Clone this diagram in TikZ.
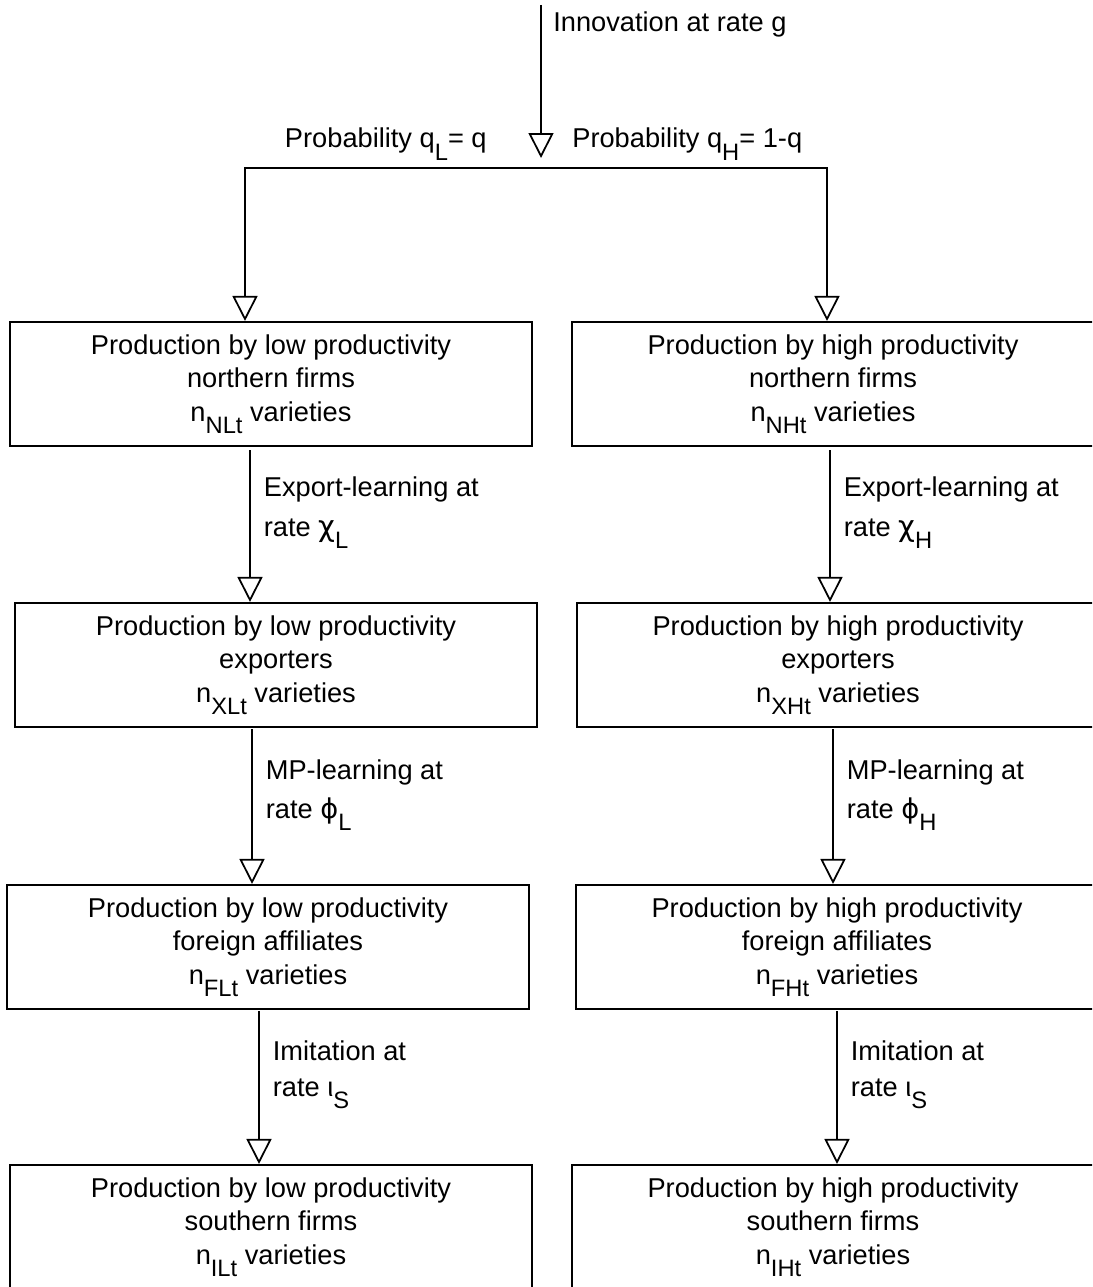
\documentclass[tikz,border=0pt]{standalone}
\usepackage{fontspec}
\setmainfont{Liberation Sans}
\newfontfamily\grk{DejaVu Sans}
\usetikzlibrary{arrows.meta, positioning, calc}
\newcommand{\lowsub}[1]{\raisebox{-0.45em}{\fontsize{13.5}{13.5}\selectfont #1}}

\begin{document}
\begin{tikzpicture}[x=0.02cm, y=-0.02cm,
  font=\fontsize{15.5}{19}\selectfont,
  firmbox/.style={draw, rectangle, line width=1.2pt, minimum width=10.44cm, minimum height=2.48cm, align=center, inner sep=2pt},
  flow/.style={line width=1pt, -{Triangle[open, width=0.5cm, length=0.5cm, line width=1pt]}},
  ratelbl/.style={anchor=north west, align=left, inner sep=0pt, xshift=0.26cm, font=\fontsize{15.5}{22.5}\selectfont},
  toplbl/.style={inner sep=0pt}]
\path[use as bounding box, clip] (0,0) rectangle (1092,1287);

% innovation and the split
\coordinate (src) at (541,5);
\coordinate (branch) at (541,168);
\node[toplbl, anchor=base west] (innov) at (553,32) {Innovation at rate g};
\node[toplbl, anchor=base east] (probl) at (487,148) {Probability q\lowsub{L}= q};
\node[toplbl, anchor=base west] (probh) at (572,148) {Probability q\lowsub{H}= 1-q};

% low productivity column
\node[firmbox] (nl) at (271,384) {Production by low productivity\\northern firms\\n\lowsub{NLt} varieties};
\node[firmbox] (xl) at (276,665) {Production by low productivity\\exporters\\n\lowsub{XLt} varieties};
\node[firmbox] (fl) at (268,947) {Production by low productivity\\foreign affiliates\\n\lowsub{FLt} varieties};
\node[firmbox] (il) at (271,1227) {Production by low productivity\\southern firms\\n\lowsub{ILt} varieties};

% high productivity column
\node[firmbox] (nh) at (833,384) {Production by high productivity\\northern firms\\n\lowsub{NHt} varieties};
\node[firmbox] (xh) at (838,665) {Production by high productivity\\exporters\\n\lowsub{XHt} varieties};
\node[firmbox] (fh) at (837,947) {Production by high productivity\\foreign affiliates\\n\lowsub{FHt} varieties};
\node[firmbox] (ih) at (833,1227) {Production by high productivity\\southern firms\\n\lowsub{IHt} varieties};

\draw[flow, shorten >=0.2cm] (src) -- (branch);
\coordinate (lsplit) at ($(nl.north)+(-26,0)$);
\coordinate (rsplit) at ($(nh.north)+(-6,0)$);
\draw[flow] (branch) -| (lsplit);
\draw[flow] (branch) -| (rsplit);

% learning and imitation steps
\coordinate (lexp) at ($(nl.south)+(-21,3)$);
\coordinate (hexp) at ($(nh.south)+(-3,3)$);
\coordinate (lmp) at ($(xl.south)+(-24,1)$);
\coordinate (hmp) at ($(xh.south)+(-5,1)$);
\coordinate (limi) at ($(fl.south)+(-9,1)$);
\coordinate (himi) at ($(fh.south)+(0,1)$);

\draw[flow] (lexp) -- (lexp |- xl.north) node[ratelbl, pos=0.17] {Export-learning at\\rate {\grk\fontsize{16.5}{16.5}\selectfont χ}\lowsub{L}};
\draw[flow] (hexp) -- (hexp |- xh.north) node[ratelbl, pos=0.17] {Export-learning at\\rate {\grk\fontsize{16.5}{16.5}\selectfont χ}\lowsub{H}};
\draw[flow] (lmp) -- (lmp |- fl.north) node[ratelbl, pos=0.19] {MP-learning at\\rate {\grk ϕ}\lowsub{L}};
\draw[flow] (hmp) -- (hmp |- fh.north) node[ratelbl, pos=0.19] {MP-learning at\\rate {\grk ϕ}\lowsub{H}};
\draw[flow] (limi) -- (limi |- il.north) node[ratelbl, pos=0.19, font=\fontsize{15.5}{20.5}\selectfont] {Imitation at\\rate ι\lowsub{S}};
\draw[flow] (himi) -- (himi |- ih.north) node[ratelbl, pos=0.19, font=\fontsize{15.5}{20.5}\selectfont] {Imitation at\\rate ι\lowsub{S}};
\end{tikzpicture}
\end{document}
